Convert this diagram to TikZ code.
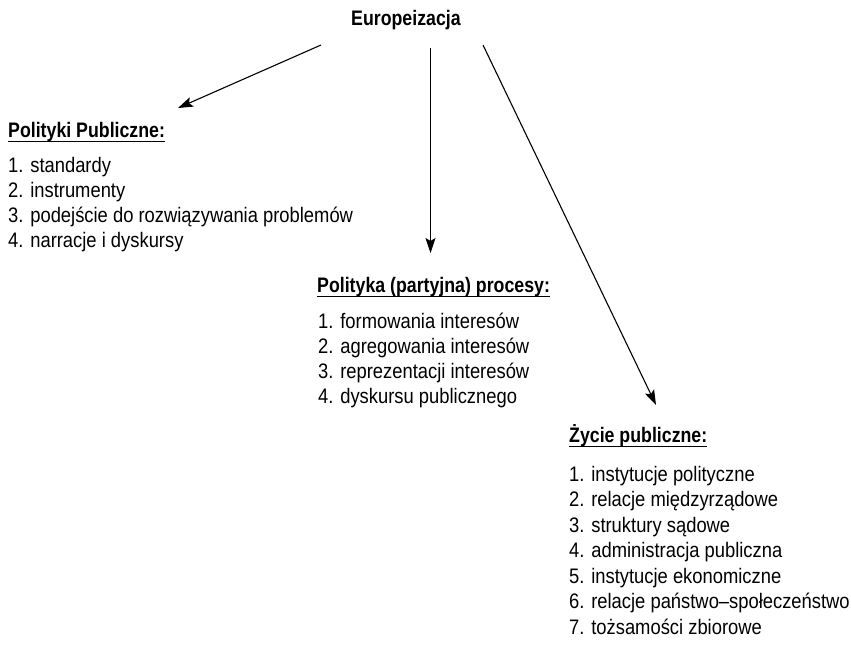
\documentclass[tikz,border=0pt]{standalone}
\usepackage{fontspec}
\setmainfont{Liberation Sans}[FakeStretch=0.875, BoldFeatures={FakeStretch=0.845}]
\usetikzlibrary{arrows.meta}
\newcommand\myul[1]{\setbox0\hbox{#1}\rlap{\rule[-5pt]{\wd0}{1.3pt}}\box0}
\tikzset{
  txt/.style={anchor=base west, inner sep=0pt, font=\fontsize{21}{25}\selectfont},
  hd/.style={anchor=base west, inner sep=0pt, font=\fontsize{21}{25}\selectfont\bfseries},
  arr/.style={line width=1.1pt, -{Stealth[length=15pt,width=10pt,inset=3pt]}}
}
\begin{document}
\begin{tikzpicture}[x=1pt,y=-1pt]
\useasboundingbox (0,0) rectangle (851,654);
% title
\node[hd] (eu) at (351,25) {Europeizacja};
% group 1
\node[hd] (h1) at (8,137) {\myul{Polityki Publiczne:}};
\node[txt] (p1) at (8,172) {1. standardy};
\node[txt] (p2) at (8,197.2) {2. instrumenty};
\node[txt] (p3) at (8,222.4) {3. podejście do rozwiązywania problemów};
\node[txt] (p4) at (8,247.6) {4. narracje i dyskursy};
% group 2
\node[hd] (h2) at (317,292) {\myul{Polityka (partyjna) procesy:}};
\node[txt] (q1) at (318,328) {1. formowania interesów};
\node[txt] (q2) at (318,353.3) {2. agregowania interesów};
\node[txt] (q3) at (318,378.6) {3. reprezentacji interesów};
\node[txt] (q4) at (318,403.9) {4. dyskursu publicznego};
% group 3
\node[hd] (h3) at (569,442) {\myul{Życie publiczne:}};
\node[txt] (r1) at (569,481) {1. instytucje polityczne};
\node[txt] (r2) at (569,506.5) {2. relacje międzyrządowe};
\node[txt] (r3) at (569,532) {3. struktury sądowe};
\node[txt] (r4) at (569,557.5) {4. administracja publiczna};
\node[txt] (r5) at (569,583) {5. instytucje ekonomiczne};
\node[txt] (r6) at (569,608.5) {6. relacje państwo–społeczeństwo};
\node[txt] (r7) at (569,634) {7. tożsamości zbiorowe};
% connectors
\coordinate (s1) at (321,45);
\coordinate (e1) at (178,108);
\coordinate (s2) at (430.5,48);
\coordinate (e2) at (430.5,253);
\coordinate (s3) at (483,45);
\coordinate (e3) at (656,405);
\draw[arr] (s1) -- (e1);
\draw[arr] (s2) -- (e2);
\draw[arr] (s3) -- (e3);
\end{tikzpicture}
\end{document}
